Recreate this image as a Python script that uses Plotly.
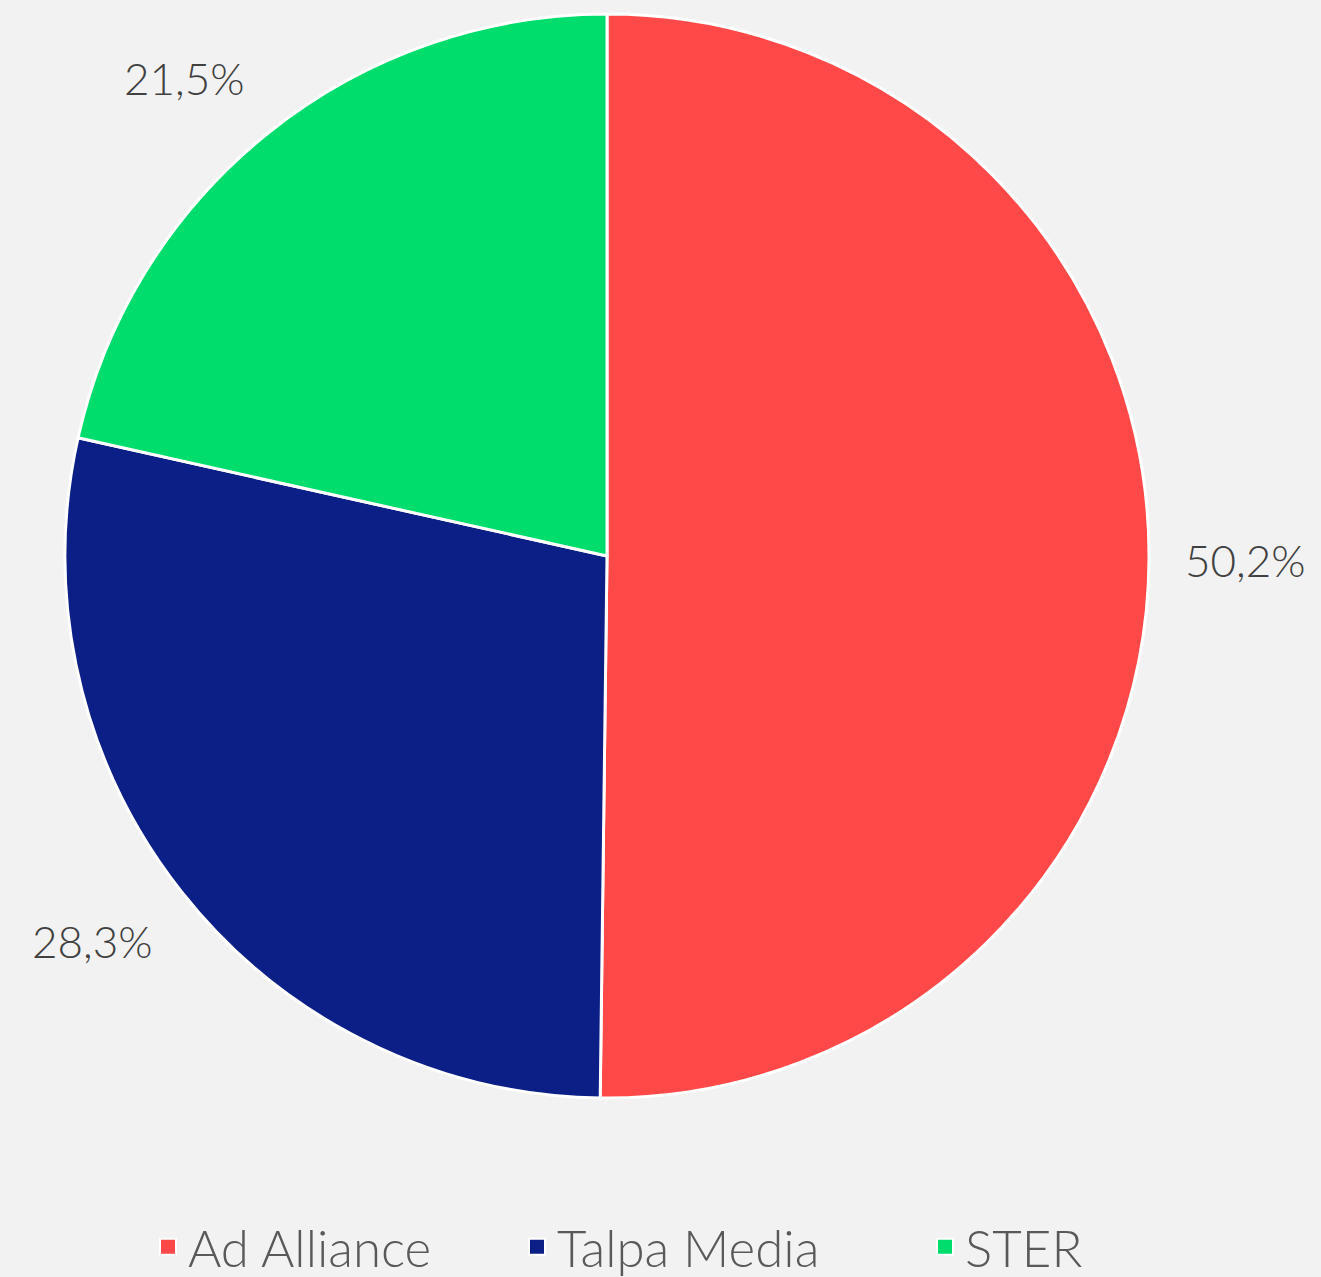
import numpy as np
import plotly.graph_objects as go

labels = ["Ad Alliance", "Talpa Media", "STER"]
values = [50.2, 28.3, 21.5]
colors = ["#FF4848", "#0C1F87", "#00DD6D"]

W, H = 1321, 1277
CX, CY, R = 607, 556, 542          # pie centre / radius in px (layout)
LABEL_GAP = 34                     # px between pie edge and label box
LEGEND_TEXT_X = [188, 557, 965]    # px where each legend text starts

texts = [f"{v:.1f}%".replace(".", ",") for v in values]

fig = go.Figure()
fig.add_trace(go.Pie(
    labels=labels,
    values=values,
    textinfo="none",
    sort=False,
    direction="clockwise",
    rotation=0,
    marker=dict(colors=colors, line=dict(color="white", width=3)),
    domain=dict(x=[(CX - R) / W, (CX + R) / W], y=[1 - (CY + R) / H, 1 - (CY - R) / H]),
    showlegend=False,
    hoverinfo="label+percent",
))

# outside-end data labels at each slice's mid angle
vals = np.array(values, dtype=float)
cum = np.cumsum(vals) - vals / 2
mid = cum / vals.sum() * 2 * np.pi  # clockwise from 12 o'clock
for ang, t in zip(mid, texts):
    s, c = np.sin(ang), np.cos(ang)
    px_ = CX + (R + LABEL_GAP) * s
    py_ = CY - (R + LABEL_GAP) * c
    xa = "left" if s > 0.3 else ("right" if s < -0.3 else "center")
    ya = "bottom" if c > 0.3 else ("top" if c < -0.3 else "middle")
    fig.add_annotation(x=px_ / W, y=1 - py_ / H, xref="paper", yref="paper",
                       text=t, showarrow=False, xanchor=xa, yanchor=ya,
                       font=dict(family="Lato", size=44, color="#404040", weight=300))

# legend entries (one legend per entry for exact spacing)
legend_names = ["legend", "legend2", "legend3"]
for lab, col, lg in zip(labels, colors, legend_names):
    fig.add_trace(go.Scatter(
        x=[None], y=[None], mode="markers", name=lab, legend=lg, hoverinfo="skip",
        marker=dict(symbol="square", size=16, color=col, line=dict(color="white", width=2)),
    ))

leg_common = dict(orientation="h", y=1 - 1247 / H, yanchor="middle", xanchor="left",
                  font=dict(family="Lato", size=51, color="#595959", weight=300),
                  bgcolor="rgba(0,0,0,0)")
layout_legends = {}
for lg, tx in zip(legend_names, LEGEND_TEXT_X):
    layout_legends[lg] = dict(x=(tx - 40) / W, **leg_common)

fig.update_layout(
    width=W, height=H,
    paper_bgcolor="#F2F2F2",
    plot_bgcolor="#F2F2F2",
    margin=dict(l=0, r=0, t=0, b=0, autoexpand=False),
    xaxis=dict(visible=False),
    yaxis=dict(visible=False),
    **layout_legends,
)

fig.write_html("out.html", config={"displayModeBar": False},
               post_script="document.body.style.margin='0';")
